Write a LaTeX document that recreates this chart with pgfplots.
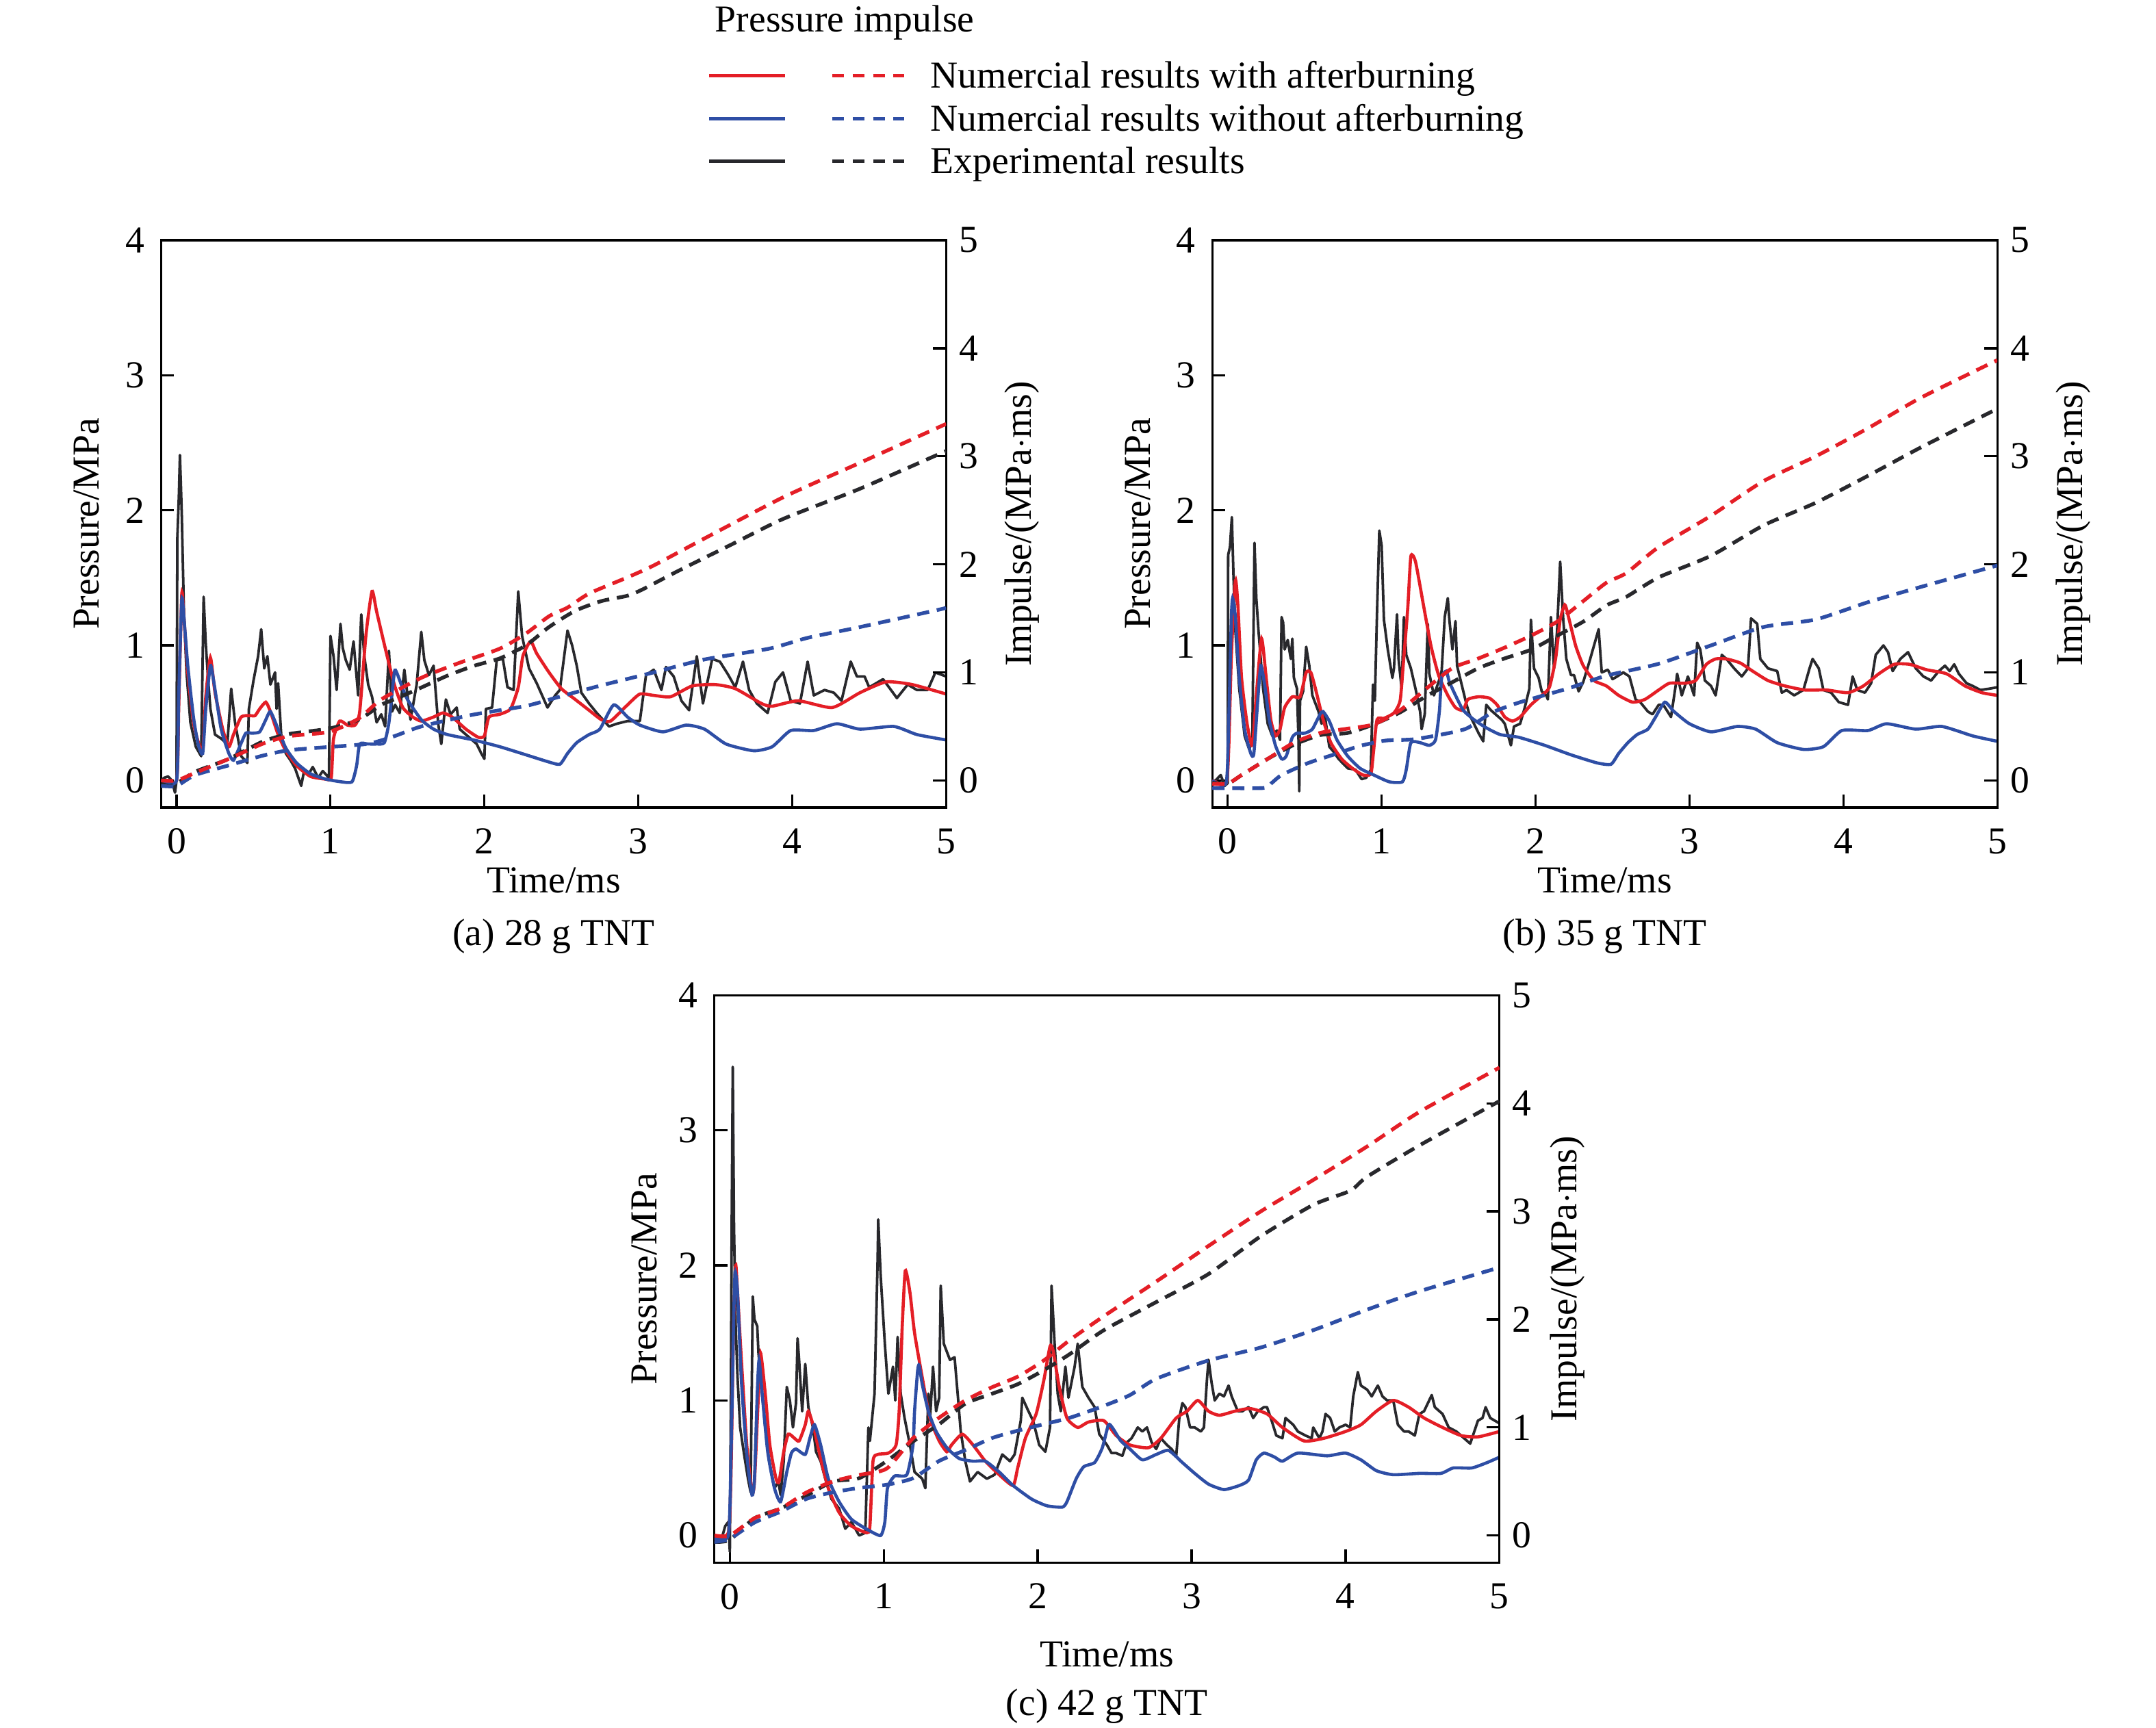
\documentclass[border=0pt]{standalone}
\usepackage{fontspec}
\setmainfont{Liberation Serif}
\usepackage{pgfplots}
\pgfplotsset{compat=1.18}
\definecolor{cred}{RGB}{228,30,38}
\definecolor{cblue}{RGB}{46,78,165}
\definecolor{cblack}{RGB}{40,40,44}
\newcommand{\ff}{\fontsize{10.3}{12}\selectfont}
\pgfplotsset{
  /pgf/number format/assume math mode=true,
  panel/.style={scale only axis, width=212.4pt, height=153.5pt, anchor=south west,
    xmin=-0.1, xmax=5, tick align=inside, major tick length=3.5pt,
    axis line style={line width=0.6pt}, every tick/.style={line width=0.6pt, black},
    tick label style={font=\ff},
    label style={font=\ff},
    clip mode=individual},
  pleft/.style={panel, ymin=-0.2, ymax=4, ytick={0,1,2,3,4}, xtick={0,1,2,3,4,5},
    xtick pos=left, ytick pos=left, xticklabel style={yshift=-2.2pt},
    yticklabel style={xshift=-1pt}, xlabel={Time/ms}, ylabel={Pressure/MPa}},
  pright/.style={panel, ymin=-0.25, ymax=5, ytick={0,1,2,3,4,5},
    axis y line*=right, axis x line=none, ylabel={Impulse/(MPa$\cdot$ms)}},
  sol/.style={line width=0.85pt, smooth, tension=0.35},
  solb/.style={line width=0.7pt, cblack, line join=round},
  das/.style={line width=1pt, dash pattern=on 3.3pt off 2.1pt, smooth, tension=0.4},
}
\begin{document}
\begin{tikzpicture}
\useasboundingbox (0,0) rectangle (583.33pt,467.41pt);
% ================= (a) =================
\begin{axis}[pleft, at={(43.6pt,248.9pt)},
  xlabel style={at={(axis description cs:0.5,-0.1283)}, anchor=center},
  ylabel style={at={(axis description cs:-0.0951,0.5)}, anchor=center},
  legend style={at={(axis description cs:0.6963,1.314)}, anchor=north west, draw=none, fill=none,
    inner sep=0pt, outer sep=0pt, row sep=4.17pt, font=\ff,
    nodes={inner sep=0pt, text height=7pt, text depth=0.4pt},
    /tikz/every odd column/.style={column sep=6.6pt}},
  legend cell align=left]
\addlegendimage{cred, legend image code/.code={\draw[line width=0.85pt] (0pt,0pt) -- (20.4pt,0pt); \draw[line width=1pt, dash pattern=on 3.2pt off 2.3pt] (33.3pt,0pt) -- (52.8pt,0pt);}}
\addlegendentry{Numercial results with afterburning}
\addlegendimage{cblue, legend image code/.code={\draw[line width=0.85pt] (0pt,0pt) -- (20.4pt,0pt); \draw[line width=1pt, dash pattern=on 3.2pt off 2.3pt] (33.3pt,0pt) -- (52.8pt,0pt);}}
\addlegendentry{Numercial results without afterburning}
\addlegendimage{cblack, legend image code/.code={\draw[line width=0.85pt] (0pt,0pt) -- (20.4pt,0pt); \draw[line width=1pt, dash pattern=on 3.2pt off 2.3pt] (33.3pt,0pt) -- (52.8pt,0pt);}}
\addlegendentry{Experimental results}
\addplot[solb, forget plot] coordinates {(-0.1,0.0) (-0.08,0.02) (-0.055,0.03) (-0.03,0.0) (-0.01,-0.09) (0,0) (0.005,1.79) (0.015,2.1) (0.022,2.41) (0.028,2.2) (0.034,1.97) (0.048,1.25) (0.065,0.8) (0.09,0.43) (0.125,0.25) (0.16,0.18) (0.176,1.36) (0.19,1.01) (0.205,0.75) (0.22,0.53) (0.25,0.34) (0.29,0.31) (0.33,0.27) (0.355,0.68) (0.38,0.43) (0.42,0.18) (0.46,0.13) (0.47,0.53) (0.5,0.74) (0.53,0.92) (0.55,1.12) (0.57,0.83) (0.59,0.92) (0.61,0.71) (0.64,0.8) (0.65,0.53) (0.66,0.72) (0.68,0.34) (0.71,0.2) (0.74,0.15) (0.77,0.09) (0.81,-0.04) (0.83,0.08) (0.86,0.05) (0.885,0.1) (0.92,0.02) (0.95,0.07) (0.99,0.02) (1.0,1.07) (1.02,0.92) (1.04,0.67) (1.065,1.16) (1.08,0.98) (1.1,0.89) (1.125,0.82) (1.15,1.03) (1.18,0.63) (1.2,1.23) (1.22,0.92) (1.245,0.71) (1.27,0.62) (1.3,0.43) (1.33,0.49) (1.355,0.4) (1.38,0.96) (1.4,0.51) (1.42,0.56) (1.45,0.5) (1.48,0.82) (1.52,0.45) (1.56,0.71) (1.59,1.1) (1.61,0.89) (1.64,0.78) (1.67,0.85) (1.7,0.42) (1.72,0.27) (1.75,0.6) (1.78,0.49) (1.82,0.54) (1.84,0.38) (1.89,0.33) (1.95,0.27) (1.98,0.2) (2.0,0.16) (2.01,0.53) (2.05,0.54) (2.08,0.89) (2.12,0.9) (2.15,0.69) (2.19,0.67) (2.22,1.4) (2.245,1.07) (2.29,0.83) (2.34,0.72) (2.41,0.54) (2.46,0.63) (2.49,0.67) (2.54,1.11) (2.57,1.0) (2.6,0.85) (2.63,0.65) (2.68,0.57) (2.73,0.5) (2.81,0.4) (2.86,0.42) (2.93,0.44) (3.01,0.44) (3.05,0.78) (3.1,0.82) (3.15,0.67) (3.18,0.84) (3.23,0.77) (3.28,0.59) (3.33,0.52) (3.38,0.92) (3.42,0.57) (3.48,0.9) (3.53,0.88) (3.58,0.79) (3.63,0.69) (3.68,0.88) (3.72,0.67) (3.77,0.57) (3.84,0.5) (3.89,0.73) (3.94,0.8) (3.99,0.59) (4.05,0.57) (4.1,0.88) (4.14,0.63) (4.21,0.67) (4.27,0.65) (4.32,0.59) (4.38,0.88) (4.42,0.77) (4.47,0.77) (4.5,0.69) (4.59,0.75) (4.68,0.61) (4.75,0.71) (4.81,0.67) (4.88,0.67) (4.93,0.8) (5.0,0.77)};
\addplot[sol, cred, forget plot] coordinates {(-0.1,0) (0,0) (0.014,0.53) (0.034,1.38) (0.048,1.21) (0.073,0.8) (0.11,0.43) (0.14,0.29) (0.17,0.22) (0.19,0.62) (0.22,0.91) (0.25,0.65) (0.3,0.38) (0.34,0.25) (0.37,0.34) (0.42,0.47) (0.475,0.48) (0.51,0.48) (0.54,0.53) (0.58,0.58) (0.61,0.51) (0.66,0.34) (0.71,0.22) (0.78,0.11) (0.87,0.03) (0.97,0.01) (1.005,0.02) (1.02,0.31) (1.06,0.44) (1.11,0.41) (1.16,0.41) (1.19,0.51) (1.23,1.07) (1.27,1.4) (1.3,1.25) (1.36,0.96) (1.415,0.71) (1.47,0.54) (1.535,0.47) (1.59,0.44) (1.67,0.47) (1.73,0.5) (1.79,0.47) (1.88,0.38) (1.96,0.32) (2.0,0.33) (2.03,0.47) (2.1,0.49) (2.17,0.53) (2.22,0.69) (2.25,0.92) (2.3,1.03) (2.34,0.94) (2.42,0.8) (2.5,0.68) (2.59,0.6) (2.68,0.52) (2.76,0.45) (2.82,0.44) (2.93,0.56) (3.01,0.64) (3.1,0.63) (3.21,0.62) (3.35,0.7) (3.5,0.71) (3.63,0.68) (3.8,0.57) (3.87,0.55) (4.04,0.59) (4.26,0.54) (4.44,0.65) (4.61,0.73) (4.78,0.71) (5.0,0.64)};
\addplot[sol, cblue, forget plot] coordinates {(-0.1,0) (0,0) (0.014,0.62) (0.034,1.34) (0.048,1.21) (0.073,0.85) (0.11,0.47) (0.14,0.27) (0.17,0.2) (0.19,0.53) (0.22,0.85) (0.245,0.71) (0.29,0.38) (0.34,0.2) (0.37,0.15) (0.41,0.25) (0.45,0.35) (0.49,0.35) (0.54,0.36) (0.58,0.45) (0.61,0.51) (0.66,0.38) (0.71,0.24) (0.78,0.13) (0.87,0.05) (0.97,0.01) (1.07,-0.01) (1.14,-0.01) (1.17,0.11) (1.19,0.27) (1.245,0.27) (1.3,0.27) (1.35,0.28) (1.38,0.43) (1.415,0.8) (1.43,0.8) (1.46,0.71) (1.5,0.6) (1.59,0.45) (1.67,0.38) (1.76,0.34) (1.93,0.3) (2.1,0.25) (2.27,0.19) (2.41,0.14) (2.49,0.12) (2.54,0.2) (2.6,0.28) (2.68,0.34) (2.75,0.38) (2.84,0.56) (2.93,0.47) (3.01,0.41) (3.16,0.36) (3.31,0.41) (3.43,0.38) (3.57,0.27) (3.75,0.22) (3.87,0.25) (3.99,0.37) (4.14,0.37) (4.29,0.42) (4.44,0.38) (4.66,0.4) (4.81,0.34) (5.0,0.3)};
\node[anchor=base west, inner sep=0pt, font=\ff] at (axis description cs:0.7048,1.3668) {Pressure impulse};
\node[anchor=center, font=\ff] at (axis description cs:0.5,-0.2267) {(a) 28 g TNT};
\end{axis}
\begin{axis}[pright, at={(43.6pt,248.9pt)},
  ylabel style={at={(axis description cs:1.0965,0.5)}, anchor=center}]
\addplot[das, cblack] coordinates {(-0.1,-0.03) (-0.05,-0.05) (0,-0.03) (0.12,0.08) (0.34,0.2) (0.56,0.36) (0.73,0.43) (0.99,0.48) (1.18,0.56) (1.33,0.7) (1.415,0.75) (1.59,0.86) (1.76,0.97) (1.93,1.06) (2.1,1.13) (2.27,1.25) (2.42,1.42) (2.59,1.57) (2.76,1.66) (2.93,1.71) (3.03,1.77) (3.26,1.94) (3.6,2.18) (3.94,2.42) (4.44,2.7) (5.0,3.05)};
\addplot[das, cblue] coordinates {(-0.1,-0.05) (0,-0.05) (0.12,0.05) (0.34,0.14) (0.56,0.23) (0.73,0.28) (0.99,0.31) (1.245,0.34) (1.415,0.41) (1.59,0.5) (1.93,0.61) (2.27,0.69) (2.5,0.78) (2.76,0.88) (3.1,1.0) (3.43,1.12) (3.85,1.22) (4.1,1.32) (4.44,1.42) (4.95,1.58) (5.0,1.6)};
\addplot[das, cred] coordinates {(-0.1,0) (0,0) (0.12,0.07) (0.34,0.2) (0.56,0.34) (0.73,0.41) (0.99,0.45) (1.18,0.57) (1.33,0.75) (1.59,0.95) (1.84,1.09) (2.1,1.22) (2.27,1.36) (2.42,1.52) (2.54,1.6) (2.68,1.73) (2.93,1.88) (3.1,1.99) (3.43,2.24) (3.94,2.62) (4.44,2.94) (5.0,3.3)};
\end{axis}
% ================= (b) =================
\begin{axis}[pleft, at={(328.0pt,248.9pt)},
  xlabel style={at={(axis description cs:0.5,-0.1283)}, anchor=center},
  ylabel style={at={(axis description cs:-0.0951,0.5)}, anchor=center}]
\addplot[solb] coordinates {(-0.1,0) (-0.08,0) (-0.045,0.04) (-0.02,-0.04) (0,-0.02) (0.003,1.67) (0.015,1.73) (0.027,1.95) (0.038,1.5) (0.05,1.11) (0.075,0.68) (0.11,0.33) (0.14,0.23) (0.16,0.3) (0.174,1.76) (0.186,1.35) (0.2,1.11) (0.23,0.68) (0.26,0.42) (0.29,0.33) (0.32,0.37) (0.34,0.3) (0.35,1.21) (0.36,1.17) (0.37,0.97) (0.39,1.04) (0.41,0.9) (0.42,1.05) (0.43,0.76) (0.45,0.68) (0.46,0.3) (0.465,-0.08) (0.47,0.59) (0.49,0.66) (0.51,0.99) (0.53,0.85) (0.55,0.63) (0.59,0.51) (0.61,0.42) (0.63,0.49) (0.66,0.25) (0.69,0.21) (0.72,0.16) (0.78,0.09) (0.83,0.08) (0.87,0.01) (0.9,0.02) (0.93,0.08) (0.944,0.71) (0.956,0.59) (0.97,1.24) (0.985,1.85) (1.0,1.74) (1.015,1.19) (1.04,0.97) (1.07,0.76) (1.08,0.83) (1.1,1.23) (1.11,0.9) (1.13,0.68) (1.145,1.21) (1.16,0.93) (1.19,0.83) (1.22,0.68) (1.25,0.51) (1.26,0.38) (1.28,0.49) (1.3,1.16) (1.31,0.79) (1.34,0.63) (1.37,0.73) (1.39,0.81) (1.41,1.21) (1.43,1.35) (1.44,1.19) (1.46,0.97) (1.48,1.18) (1.49,0.85) (1.52,0.71) (1.55,0.57) (1.57,0.49) (1.6,0.42) (1.63,0.35) (1.66,0.29) (1.68,0.56) (1.71,0.52) (1.74,0.49) (1.78,0.45) (1.8,0.42) (1.84,0.26) (1.86,0.4) (1.9,0.42) (1.93,0.54) (1.96,0.68) (1.97,1.19) (1.99,0.83) (2.02,0.76) (2.04,0.66) (2.07,0.63) (2.08,0.6) (2.1,1.21) (2.12,0.83) (2.14,1.11) (2.16,1.62) (2.18,1.19) (2.2,0.9) (2.23,0.78) (2.25,0.78) (2.28,0.66) (2.31,0.73) (2.35,0.88) (2.38,1.0) (2.41,1.12) (2.43,0.8) (2.47,0.82) (2.5,0.75) (2.53,0.77) (2.57,0.8) (2.61,0.77) (2.65,0.6) (2.68,0.58) (2.73,0.51) (2.76,0.49) (2.8,0.56) (2.83,0.56) (2.88,0.47) (2.91,0.7) (2.92,0.79) (2.95,0.63) (2.99,0.77) (3.03,0.63) (3.05,1.02) (3.07,0.97) (3.1,0.74) (3.14,0.7) (3.17,0.63) (3.21,0.93) (3.24,0.9) (3.29,0.83) (3.34,0.77) (3.38,0.83) (3.4,1.2) (3.44,1.16) (3.46,0.9) (3.51,0.83) (3.57,0.81) (3.6,0.65) (3.63,0.67) (3.68,0.63) (3.74,0.67) (3.78,0.83) (3.8,0.9) (3.84,0.83) (3.87,0.67) (3.92,0.65) (3.97,0.58) (4.03,0.56) (4.06,0.77) (4.09,0.67) (4.14,0.65) (4.18,0.72) (4.21,0.93) (4.26,1.0) (4.29,0.95) (4.32,0.81) (4.37,0.9) (4.42,0.95) (4.47,0.83) (4.52,0.77) (4.57,0.74) (4.62,0.81) (4.66,0.85) (4.69,0.81) (4.72,0.86) (4.75,0.79) (4.8,0.72) (4.84,0.7) (4.89,0.67) (4.95,0.68) (5.0,0.69)};
\addplot[sol, cred] coordinates {(-0.1,0) (-0.01,-0.02) (0.007,0.25) (0.024,0.93) (0.05,1.48) (0.067,1.28) (0.09,0.76) (0.126,0.42) (0.16,0.26) (0.186,0.63) (0.22,1.05) (0.25,0.76) (0.28,0.45) (0.31,0.33) (0.34,0.38) (0.37,0.54) (0.42,0.62) (0.47,0.62) (0.51,0.8) (0.54,0.8) (0.57,0.68) (0.62,0.45) (0.67,0.28) (0.74,0.16) (0.81,0.09) (0.88,0.04) (0.93,0.05) (0.947,0.21) (0.97,0.45) (1.015,0.46) (1.08,0.5) (1.12,0.59) (1.14,0.85) (1.17,1.28) (1.19,1.66) (1.22,1.62) (1.27,1.31) (1.32,1.0) (1.37,0.78) (1.43,0.63) (1.48,0.54) (1.53,0.52) (1.56,0.6) (1.63,0.62) (1.7,0.61) (1.75,0.56) (1.8,0.47) (1.85,0.44) (1.9,0.47) (1.97,0.56) (2.04,0.63) (2.09,0.69) (2.13,0.9) (2.16,1.19) (2.19,1.3) (2.21,1.23) (2.26,1.0) (2.31,0.85) (2.38,0.74) (2.46,0.7) (2.54,0.63) (2.63,0.58) (2.71,0.6) (2.8,0.67) (2.87,0.72) (2.97,0.72) (3.04,0.74) (3.11,0.86) (3.17,0.9) (3.24,0.9) (3.33,0.87) (3.41,0.81) (3.51,0.74) (3.62,0.7) (3.75,0.67) (3.89,0.67) (4.03,0.65) (4.13,0.7) (4.23,0.79) (4.33,0.86) (4.43,0.86) (4.54,0.82) (4.67,0.79) (4.79,0.7) (4.9,0.65) (5.0,0.63)};
\addplot[sol, cblue] coordinates {(-0.1,0) (-0.01,-0.02) (0.007,0.45) (0.024,1.21) (0.032,1.35) (0.05,1.21) (0.075,0.76) (0.11,0.38) (0.15,0.2) (0.17,0.2) (0.195,0.59) (0.215,0.85) (0.24,0.71) (0.27,0.45) (0.31,0.26) (0.35,0.16) (0.38,0.18) (0.42,0.32) (0.45,0.35) (0.5,0.35) (0.55,0.38) (0.6,0.49) (0.62,0.51) (0.66,0.44) (0.71,0.3) (0.78,0.18) (0.86,0.09) (0.95,0.04) (1.05,-0.01) (1.135,-0.01) (1.16,0.08) (1.19,0.28) (1.25,0.28) (1.31,0.26) (1.35,0.3) (1.375,0.51) (1.39,0.76) (1.42,0.81) (1.44,0.73) (1.48,0.63) (1.53,0.52) (1.6,0.45) (1.68,0.39) (1.77,0.34) (1.89,0.32) (2.06,0.26) (2.23,0.19) (2.4,0.13) (2.49,0.12) (2.54,0.2) (2.6,0.28) (2.66,0.34) (2.73,0.38) (2.78,0.47) (2.84,0.58) (2.9,0.51) (3.0,0.42) (3.14,0.36) (3.31,0.4) (3.43,0.38) (3.57,0.28) (3.74,0.23) (3.87,0.25) (3.99,0.37) (4.16,0.37) (4.28,0.42) (4.47,0.38) (4.64,0.4) (4.84,0.33) (5.0,0.29)};
\node[anchor=center, font=\ff] at (axis description cs:0.5,-0.2267) {(b) 35 g TNT};
\end{axis}
\begin{axis}[pright, at={(328.0pt,248.9pt)},
  ylabel style={at={(axis description cs:1.0965,0.5)}, anchor=center}]
\addplot[das, cblack] coordinates {(-0.1,-0.02) (0,-0.03) (0.09,0.05) (0.26,0.2) (0.43,0.33) (0.6,0.42) (0.78,0.44) (0.95,0.52) (1.12,0.63) (1.29,0.78) (1.46,0.91) (1.63,1.04) (1.8,1.13) (1.97,1.21) (2.14,1.34) (2.31,1.47) (2.46,1.62) (2.59,1.7) (2.8,1.88) (3.14,2.08) (3.48,2.36) (3.82,2.57) (4.16,2.82) (4.5,3.08) (5.0,3.44)};
\addplot[das, cblue] coordinates {(-0.1,-0.07) (0.23,-0.07) (0.28,-0.03) (0.35,0.05) (0.52,0.16) (0.69,0.24) (0.86,0.32) (1.03,0.37) (1.2,0.38) (1.37,0.42) (1.55,0.48) (1.72,0.63) (1.89,0.72) (2.06,0.79) (2.23,0.86) (2.46,0.97) (2.8,1.08) (3.14,1.25) (3.48,1.42) (3.82,1.49) (4.16,1.65) (4.5,1.79) (5.0,1.99)};
\addplot[das, cred] coordinates {(-0.1,-0.03) (0,-0.03) (0.09,0.05) (0.26,0.2) (0.43,0.35) (0.6,0.44) (0.78,0.48) (0.95,0.52) (1.12,0.65) (1.29,0.85) (1.46,1.04) (1.63,1.13) (1.8,1.23) (1.97,1.34) (2.14,1.47) (2.31,1.66) (2.46,1.83) (2.59,1.92) (2.8,2.16) (3.14,2.45) (3.48,2.77) (3.82,3.0) (4.16,3.26) (4.5,3.54) (5.0,3.89)};
\end{axis}
% ================= (c) =================
\begin{axis}[pleft, at={(193.3pt,44.6pt)},
  xlabel style={at={(axis description cs:0.5,-0.1616)}, anchor=center},
  ylabel style={at={(axis description cs:-0.089,0.5)}, anchor=center}]
\addplot[solb] coordinates {(-0.1,-0.05) (-0.06,-0.05) (-0.03,0.07) (-0.01,0.1) (0,-0.12) (0.007,1.05) (0.012,2.29) (0.019,3.47) (0.027,2.29) (0.038,1.55) (0.05,1.17) (0.067,0.8) (0.09,0.62) (0.118,0.42) (0.135,0.32) (0.149,1.77) (0.16,1.6) (0.178,1.55) (0.186,1.35) (0.2,1.17) (0.23,0.8) (0.255,0.55) (0.29,0.35) (0.315,0.4) (0.33,0.3) (0.35,0.55) (0.37,1.1) (0.39,1.0) (0.41,0.8) (0.43,0.98) (0.44,1.46) (0.45,1.3) (0.47,0.92) (0.49,1.27) (0.51,0.95) (0.54,0.8) (0.56,0.62) (0.59,0.55) (0.62,0.42) (0.66,0.27) (0.71,0.2) (0.75,0.05) (0.79,0.1) (0.84,0.0) (0.88,0.02) (0.9,0.8) (0.91,0.7) (0.94,1.05) (0.96,2.04) (0.964,2.34) (0.98,1.92) (1.007,1.42) (1.03,1.05) (1.06,1.25) (1.075,1.0) (1.09,1.47) (1.11,1.05) (1.135,0.87) (1.17,0.67) (1.2,0.47) (1.25,0.42) (1.27,0.35) (1.29,1.05) (1.3,0.85) (1.32,1.25) (1.34,0.92) (1.36,1.02) (1.37,1.85) (1.39,1.42) (1.43,1.3) (1.46,1.32) (1.48,1.05) (1.5,0.77) (1.53,0.55) (1.56,0.4) (1.61,0.47) (1.67,0.42) (1.72,0.45) (1.77,0.6) (1.82,0.55) (1.85,0.6) (1.89,0.85) (1.9,1.02) (1.94,0.92) (1.97,0.85) (2.01,0.67) (2.05,0.62) (2.08,0.8) (2.09,1.85) (2.11,1.42) (2.13,1.05) (2.15,0.92) (2.18,1.25) (2.2,1.02) (2.24,1.25) (2.26,1.42) (2.29,1.1) (2.33,1.02) (2.37,0.95) (2.4,0.75) (2.45,0.67) (2.48,0.61) (2.51,0.61) (2.55,0.59) (2.58,0.69) (2.61,0.72) (2.65,0.8) (2.68,0.77) (2.71,0.8) (2.74,0.69) (2.77,0.64) (2.8,0.72) (2.84,0.67) (2.87,0.64) (2.9,0.59) (2.92,0.87) (2.94,0.98) (2.96,0.95) (2.99,0.8) (3.02,0.8) (3.06,0.77) (3.08,0.8) (3.1,1.16) (3.11,1.3) (3.13,1.13) (3.15,1.0) (3.18,1.05) (3.21,1.03) (3.24,1.11) (3.26,1.03) (3.3,0.92) (3.33,0.92) (3.37,0.95) (3.4,0.87) (3.43,0.92) (3.47,0.95) (3.49,0.95) (3.52,0.85) (3.55,0.74) (3.59,0.72) (3.61,0.87) (3.66,0.82) (3.69,0.77) (3.74,0.74) (3.78,0.72) (3.79,0.8) (3.83,0.72) (3.85,0.77) (3.87,0.9) (3.9,0.87) (3.93,0.77) (3.96,0.8) (4.0,0.82) (4.03,0.8) (4.05,1.03) (4.08,1.21) (4.1,1.11) (4.14,1.08) (4.17,1.03) (4.21,1.11) (4.24,1.03) (4.27,1.0) (4.31,1.0) (4.34,0.82) (4.38,0.77) (4.41,0.77) (4.45,0.74) (4.48,0.9) (4.51,0.92) (4.56,1.04) (4.58,0.95) (4.63,0.9) (4.67,0.8) (4.72,0.77) (4.77,0.72) (4.81,0.68) (4.86,0.85) (4.89,0.87) (4.91,0.95) (4.94,0.87) (5.0,0.83)};
\addplot[sol, cred] coordinates {(-0.1,-0.02) (-0.01,0.02) (0.007,0.42) (0.024,1.55) (0.038,2.0) (0.05,1.8) (0.075,1.3) (0.11,0.67) (0.144,0.32) (0.16,0.4) (0.186,1.05) (0.2,1.35) (0.23,1.05) (0.26,0.67) (0.3,0.42) (0.32,0.4) (0.35,0.62) (0.38,0.75) (0.42,0.72) (0.45,0.7) (0.49,0.82) (0.51,0.92) (0.545,0.8) (0.59,0.57) (0.64,0.35) (0.71,0.17) (0.79,0.07) (0.89,0.02) (0.91,0.07) (0.93,0.55) (0.96,0.6) (1.03,0.61) (1.08,0.67) (1.1,0.92) (1.12,1.55) (1.14,1.96) (1.17,1.8) (1.2,1.5) (1.25,1.17) (1.3,0.87) (1.36,0.7) (1.41,0.62) (1.44,0.67) (1.51,0.75) (1.58,0.67) (1.66,0.55) (1.75,0.45) (1.84,0.37) (1.87,0.5) (1.92,0.72) (1.99,0.9) (2.04,1.15) (2.08,1.4) (2.1,1.37) (2.14,1.1) (2.19,0.87) (2.26,0.8) (2.33,0.84) (2.43,0.85) (2.51,0.74) (2.6,0.67) (2.72,0.65) (2.8,0.72) (2.9,0.87) (2.97,0.92) (3.04,1.0) (3.11,0.92) (3.18,0.89) (3.28,0.92) (3.38,0.94) (3.49,0.9) (3.59,0.8) (3.73,0.7) (3.86,0.72) (4.0,0.77) (4.1,0.82) (4.2,0.92) (4.31,1.0) (4.41,0.95) (4.51,0.87) (4.63,0.8) (4.75,0.74) (4.86,0.73) (5.0,0.77)};
\addplot[sol, cblue] coordinates {(-0.1,-0.02) (-0.01,0) (0.007,0.55) (0.024,1.55) (0.034,1.95) (0.05,1.8) (0.075,1.15) (0.11,0.6) (0.144,0.3) (0.16,0.42) (0.178,1.05) (0.19,1.3) (0.21,1.05) (0.246,0.62) (0.29,0.35) (0.33,0.25) (0.37,0.47) (0.4,0.61) (0.43,0.64) (0.49,0.6) (0.52,0.72) (0.55,0.82) (0.59,0.67) (0.64,0.42) (0.71,0.25) (0.79,0.12) (0.9,0.04) (0.98,0.0) (1.007,0.1) (1.024,0.35) (1.07,0.44) (1.15,0.45) (1.19,0.67) (1.2,0.92) (1.22,1.22) (1.23,1.26) (1.25,1.12) (1.29,0.92) (1.34,0.77) (1.41,0.65) (1.49,0.57) (1.58,0.55) (1.66,0.55) (1.75,0.47) (1.84,0.37) (1.96,0.27) (2.06,0.22) (2.16,0.21) (2.19,0.25) (2.25,0.42) (2.3,0.51) (2.37,0.54) (2.42,0.65) (2.46,0.82) (2.49,0.79) (2.54,0.7) (2.6,0.64) (2.68,0.56) (2.77,0.6) (2.85,0.63) (2.94,0.54) (3.02,0.46) (3.11,0.38) (3.21,0.34) (3.31,0.37) (3.37,0.41) (3.42,0.56) (3.47,0.61) (3.54,0.58) (3.59,0.55) (3.69,0.61) (3.88,0.59) (4.0,0.61) (4.1,0.56) (4.2,0.48) (4.31,0.45) (4.48,0.46) (4.62,0.46) (4.7,0.5) (4.82,0.5) (4.92,0.54) (5.0,0.58)};
\node[anchor=center, font=\ff] at (axis description cs:0.5,-0.2534) {(c) 42 g TNT};
\end{axis}
\begin{axis}[pright, at={(193.3pt,44.6pt)},
  ylabel style={at={(axis description cs:1.0866,0.5)}, anchor=center}]
\addplot[das, cblack] coordinates {(-0.1,-0.06) (0,-0.04) (0.16,0.16) (0.33,0.25) (0.5,0.37) (0.67,0.5) (0.84,0.53) (1.02,0.69) (1.19,0.87) (1.36,1.03) (1.53,1.22) (1.7,1.31) (1.87,1.4) (2.04,1.53) (2.21,1.68) (2.43,1.9) (2.77,2.16) (3.11,2.42) (3.45,2.77) (3.79,3.06) (4.03,3.19) (4.14,3.32) (4.48,3.61) (5.0,4.02)};
\addplot[das, cblue] coordinates {(-0.1,-0.06) (0,-0.03) (0.16,0.12) (0.33,0.22) (0.5,0.34) (0.67,0.4) (0.84,0.44) (1.02,0.47) (1.19,0.53) (1.36,0.69) (1.53,0.79) (1.7,0.9) (1.87,0.97) (2.04,1.03) (2.21,1.09) (2.43,1.2) (2.6,1.3) (2.77,1.45) (3.11,1.62) (3.45,1.74) (3.79,1.9) (4.14,2.09) (4.48,2.26) (5.0,2.48)};
\addplot[das, cred] coordinates {(-0.1,0) (0,0) (0.16,0.16) (0.33,0.25) (0.5,0.4) (0.67,0.5) (0.84,0.56) (1.02,0.62) (1.19,0.9) (1.36,1.09) (1.53,1.25) (1.7,1.37) (1.87,1.47) (2.04,1.62) (2.21,1.81) (2.43,2.03) (2.77,2.35) (3.11,2.68) (3.45,3.0) (3.79,3.29) (4.14,3.6) (4.48,3.92) (5.0,4.33)};
\end{axis}
\end{tikzpicture}
\end{document}
